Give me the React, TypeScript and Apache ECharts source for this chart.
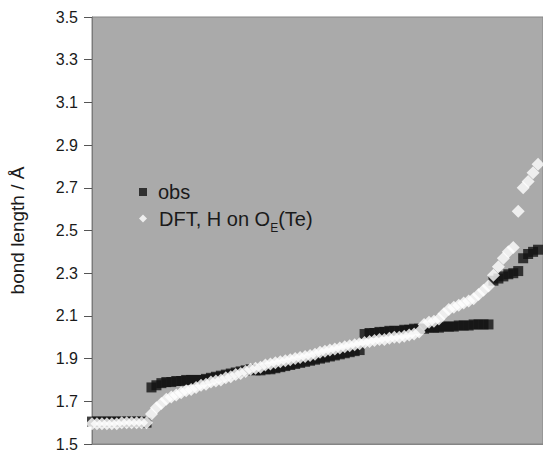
import React, { useEffect, useRef } from "react";
import * as echarts from "echarts";

// y-axis tick labels (bond length / Å)
const yTicks = ["1.5", "1.7", "1.9", "2.1", "2.3", "2.5", "2.7", "2.9", "3.1", "3.3", "3.5"];

// observed bond lengths (sorted bond index 0..90)
const obs = [
  1.605, 1.605, 1.605, 1.605, 1.605, 1.605, 1.605, 1.605, 1.605, 1.605, 1.605, 1.60,
  1.765, 1.775, 1.785, 1.79, 1.79, 1.795, 1.795, 1.80, 1.80, 1.80,
  1.80, 1.805, 1.81, 1.815, 1.82, 1.825, 1.83, 1.835, 1.84, 1.845,
  1.85, 1.845, 1.845, 1.85, 1.85, 1.855, 1.86, 1.865, 1.87, 1.875,
  1.88, 1.885, 1.89, 1.895, 1.90, 1.905, 1.91, 1.915, 1.92, 1.925,
  1.93, 1.935, 1.94, 2.015, 2.02, 2.02, 2.025, 2.025, 2.03, 2.03,
  2.03, 2.035, 2.035, 2.04, 2.04, 2.04, 2.045, 2.045, 2.045, 2.05,
  2.05, 2.05, 2.055, 2.055, 2.055, 2.06, 2.06, 2.06, 2.06, 2.265,
  2.275, 2.285, 2.295, 2.30, 2.31, 2.37, 2.39, 2.40, 2.41,
];

// DFT, H on O_E(Te)
const dft = [
  1.595, 1.595, 1.595, 1.595, 1.595, 1.595, 1.60, 1.60, 1.60, 1.60, 1.60, 1.60,
  1.64, 1.67, 1.69, 1.71, 1.72, 1.73, 1.74, 1.75, 1.755, 1.765,
  1.775, 1.78, 1.79, 1.795, 1.80, 1.81, 1.815, 1.825, 1.83, 1.84,
  1.85, 1.855, 1.86, 1.87, 1.875, 1.88, 1.885, 1.89, 1.895, 1.90,
  1.905, 1.91, 1.915, 1.92, 1.93, 1.935, 1.94, 1.945, 1.95, 1.955,
  1.96, 1.965, 1.97, 1.975, 1.98, 1.985, 1.99, 1.99, 1.995, 2.00,
  2.00, 2.005, 2.01, 2.015, 2.025, 2.06, 2.07, 2.075, 2.085, 2.11,
  2.13, 2.14, 2.15, 2.16, 2.17, 2.18, 2.20, 2.22, 2.24, 2.29,
  2.33, 2.37, 2.40, 2.42, 2.59, 2.70, 2.73, 2.77, 2.81,
];

const OBS_NAME = "obs";
const DFT_NAME = "DFT, H on OE(Te)";

const FONT = "'Liberation Sans', Arial, sans-serif";

export default function App() {
  const ref = useRef<HTMLDivElement>(null);

  useEffect(() => {
    if (!ref.current) return;
    const chart = echarts.init(ref.current, undefined, { renderer: "svg" });
    const toPts = (arr: number[]) => arr.map((v, i) => [i, v]);
    chart.setOption({
      animation: false,
      backgroundColor: "#ffffff",
      textStyle: { fontFamily: FONT },
      grid: {
        left: 90,
        top: 17,
        right: -2,
        bottom: 6,
        show: true,
        backgroundColor: "#aaaaaa",
        borderColor: "#858585",
        borderWidth: 1,
      },
      legend: [
        {
          data: [OBS_NAME],
          left: 134,
          top: 177,
          itemWidth: 8,
          itemHeight: 8,
          icon: "rect",
          formatter: () => "{sp|}{n|obs}",
          textStyle: {
            fontFamily: FONT,
            fontSize: 20,
            color: "#1a1a1a",
            rich: {
              sp: { width: 6 },
              n: { fontFamily: FONT, fontSize: 20, lineHeight: 20, color: "#1a1a1a" },
            },
          },
        },
        {
          data: [DFT_NAME],
          left: 134,
          top: 203.5,
          itemWidth: 8,
          itemHeight: 8,
          icon: "diamond",
          formatter: () => "{sp|}{n|DFT, H on O}{s|E}{n|(Te)}",
          textStyle: {
            fontFamily: FONT,
            fontSize: 20,
            color: "#1a1a1a",
            rich: {
              sp: { width: 7 },
              n: { fontFamily: FONT, fontSize: 20, lineHeight: 30, color: "#1a1a1a" },
              s: { fontFamily: FONT, fontSize: 12, lineHeight: 12, verticalAlign: "bottom", color: "#1a1a1a" },
            },
          },
        },
      ],
      xAxis: {
        type: "value",
        min: 0,
        max: 91,
        axisLine: { show: true, lineStyle: { color: "#858585", width: 1 } },
        axisTick: { show: false },
        axisLabel: { show: false },
        splitLine: { show: false },
      },
      yAxis: {
        type: "value",
        min: 1.5,
        max: 3.5,
        interval: 0.2,
        name: "bond length / Å",
        nameLocation: "middle",
        nameGap: 65,
        nameTextStyle: { fontFamily: FONT, fontSize: 19, color: "#1a1a1a" },
        axisLine: { show: true, lineStyle: { color: "#7a7a7a", width: 1 } },
        axisTick: { show: true, inside: false, length: 8, lineStyle: { color: "#555555" } },
        axisLabel: {
          margin: 14,
          fontFamily: FONT,
          fontSize: 16,
          color: "#1a1a1a",
          formatter: (v: number) => {
            const s = v.toFixed(1);
            return yTicks.includes(s) ? s : "";
          },
        },
        splitLine: { show: false },
      },
      series: [
        {
          name: OBS_NAME,
          type: "scatter",
          symbol: "rect",
          symbolSize: 10,
          itemStyle: { color: "#111111" },
          data: toPts(obs),
          z: 2,
        },
        {
          name: DFT_NAME,
          type: "scatter",
          symbol: "diamond",
          symbolSize: 13,
          itemStyle: { color: "#ffffff" },
          data: toPts(dft),
          z: 3,
        },
      ],
    });
    return () => chart.dispose();
  }, []);

  return (
    <div
      ref={ref}
      style={{ position: "absolute", left: 0, top: 0, width: 543, height: 452 }}
    />
  );
}
